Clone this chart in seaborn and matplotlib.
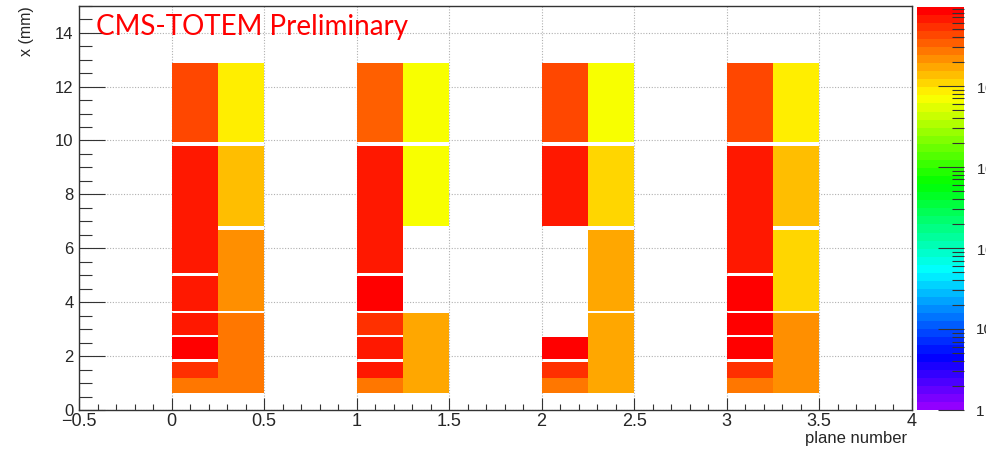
import colorsys
import numpy as np
import pandas as pd
import matplotlib
matplotlib.use("Agg")
import matplotlib.pyplot as plt
import seaborn as sns
from matplotlib.colors import ListedColormap, LogNorm
from matplotlib.ticker import MultipleLocator, FuncFormatter, FixedLocator

# ---------------- data ----------------
planes = [0, 1, 2, 3]
# y bin edges (mm), bottom to top; thin bins are the empty gaps between pixel rows
y_edges = [0.62, 1.20, 1.78, 1.88, 2.70, 2.80, 3.59, 3.69, 4.98, 5.10,
           6.69, 6.81, 9.81, 9.94, 12.89]
# hit counts per y bin for the left (plane+0..0.25) and right (plane+0.25..0.5) columns
p0_left  = [27000, 54000, 0, 85000, 0, 67000, 0, 67000, 0, 67000, 67000, 67000, 0, 43000]
p0_right = [27000, 27000, 27000, 27000, 27000, 27000, 0, 21000, 21000, 21000, 0, 13500, 0, 8600]
p1_left  = [27000, 67000, 0, 67000, 0, 54000, 0, 85000, 0, 67000, 67000, 67000, 0, 34000]
p1_right = [17000, 17000, 17000, 17000, 17000, 17000, 0, 0, 0, 0, 0, 6800, 0, 6800]
p2_left  = [27000, 54000, 0, 85000, 0, 0, 0, 0, 0, 0, 0, 67000, 0, 43000]
p2_right = [17000, 17000, 17000, 17000, 17000, 17000, 0, 17000, 17000, 17000, 0, 10800, 0, 6800]
p3_left  = [27000, 54000, 0, 85000, 0, 85000, 0, 85000, 0, 67000, 67000, 67000, 0, 43000]
p3_right = [21000, 21000, 21000, 21000, 21000, 21000, 0, 10800, 10800, 10800, 0, 13500, 0, 8600]

left_cols = [p0_left, p1_left, p2_left, p3_left]
right_cols = [p0_right, p1_right, p2_right, p3_right]

z_min, z_max = 1, 95000
cbar_ticks = [1, 10, 100, 1000, 10000]
cbar_labels = ["1", "10", "$10^{2}$", "$10^{3}$", "$10^{4}$"]

# ---------------- table ----------------
y_centers = [(a + b) / 2 for a, b in zip(y_edges[:-1], y_edges[1:])]
rows = []
for p, lc, rc in zip(planes, left_cols, right_cols):
    for yc, lv, rv in zip(y_centers, lc, rc):
        if lv > 0:
            rows.append({"plane": p + 0.125, "x": yc, "counts": lv})
        if rv > 0:
            rows.append({"plane": p + 0.375, "x": yc, "counts": rv})
df = pd.DataFrame(rows)
x_edges = np.arange(-0.5, 4.0001, 0.25)

# ROOT "pretty" palette: 50 colours violet -> red
pal = [colorsys.hls_to_rgb((280 - (i + 1) * 280 / 50) / 360, 0.5, 1.0) for i in range(50)]
cmap = ListedColormap(pal)

# ---------------- plot ----------------
sns.set_theme(style="white")
plt.rcParams["font.family"] = ["Liberation Sans", "DejaVu Sans"]
plt.rcParams["mathtext.fontset"] = "custom"
plt.rcParams["mathtext.rm"] = "Liberation Sans"
plt.rcParams["mathtext.it"] = "Liberation Sans"

W, H = 987, 451
fig = plt.figure(figsize=(W / 100, H / 100), dpi=100)
fig.patch.set_facecolor("white")
ax = fig.add_axes([79 / W, 41 / H, (911.7 - 79) / W, (410 - 5.7) / H])
cax = fig.add_axes([916.7 / W, 41 / H, (964 - 916.7) / W, (410 - 6.7) / H])

sns.histplot(data=df, x="plane", y="x", weights="counts",
             bins=[x_edges, y_edges], cmap=cmap, cbar=False, ax=ax)
mesh = ax.collections[0]
mesh.set_norm(LogNorm(vmin=z_min, vmax=z_max))

ax.set_xlim(-0.5, 4.0)
ax.set_ylim(0, 15)
ax.set_xlabel("")
ax.set_ylabel("")
ax.set_facecolor("white")
ax.set_axisbelow(True)
ax.grid(True, which="major", linestyle=(0, (1, 1.5)), color="#b0b0b0", linewidth=0.8)

ax.xaxis.set_major_locator(MultipleLocator(0.5))
ax.xaxis.set_minor_locator(MultipleLocator(0.1))
ax.yaxis.set_major_locator(MultipleLocator(2))
ax.yaxis.set_minor_locator(MultipleLocator(0.5))
fmt = FuncFormatter(lambda v, pos: ("%g" % v).replace("-", "\u2212"))
ax.xaxis.set_major_formatter(fmt)
ax.yaxis.set_major_formatter(fmt)

ax.tick_params(axis="x", which="major", direction="in", length=8.6, width=0.8,
               color="#333333", labelsize=13, pad=2.4, bottom=True, top=False)
ax.tick_params(axis="x", which="minor", direction="in", length=4.3, width=0.8,
               color="#333333", bottom=True, top=False)
ax.tick_params(axis="y", which="major", direction="in", length=18.7, width=0.8,
               color="#333333", labelsize=12, pad=4, left=True, right=False)
ax.tick_params(axis="y", which="minor", direction="in", length=9.5, width=0.8,
               color="#333333", left=True, right=False)
for s in ax.spines.values():
    s.set_visible(True)
    s.set_color("#333333")
    s.set_linewidth(1.0)

cb = fig.colorbar(mesh, cax=cax)
cb.outline.set_linewidth(0)
cax.set_axisbelow(False)
cax.yaxis.set_major_locator(FixedLocator(cbar_ticks))
cax.yaxis.set_major_formatter(FuncFormatter(lambda v, pos: cbar_labels[pos] if pos < len(cbar_labels) else ""))
minor = [m * 10 ** d for d in range(0, 5) for m in range(2, 10) if m * 10 ** d < z_max]
cax.yaxis.set_minor_locator(FixedLocator(minor))
cax.tick_params(which="major", direction="in", length=18.7, width=0.8, color="#333333",
                labelsize=11, pad=8.5, right=True, left=False)
cax.tick_params(which="minor", direction="in", length=8.6, width=0.8, color="#333333",
                right=True, left=False)

fig.text(26 / W, 1 - 6 / H, "x (mm)", rotation=90, ha="center", va="top", fontsize=11.5)
fig.text(907 / W, 1 - 438 / H, "plane number", ha="right", va="center", fontsize=12)
fig.text(96 / W, 1 - 35 / H, "CMS-TOTEM Preliminary", ha="left", va="baseline",
         color="#ff0000", fontsize=20, family=["Lato", "DejaVu Sans"])

fig.savefig("out.png", dpi=100)
